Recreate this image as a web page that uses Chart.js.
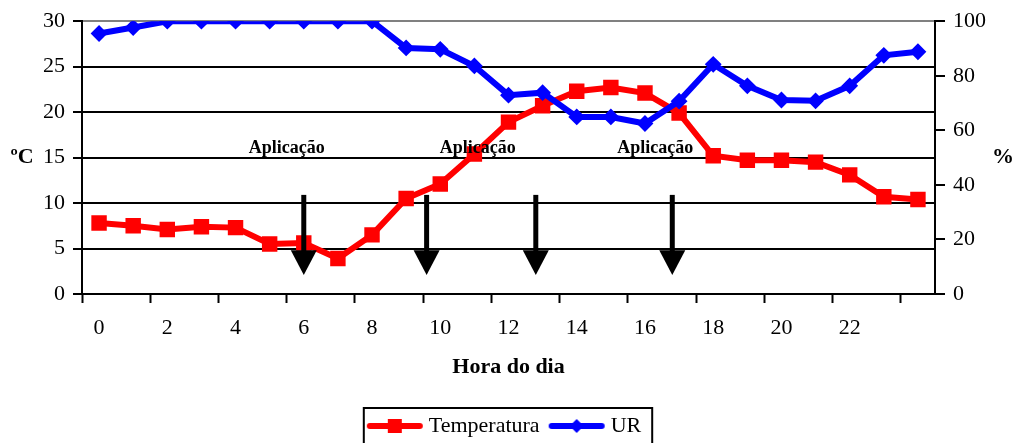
<!DOCTYPE html>
<html lang="pt">
<head>
  <meta charset="UTF-8">
  <title>Temperatura e UR ao longo do dia</title>
  <script src="https://cdn.jsdelivr.net/npm/chart.js"></script>
  <style>
    html, body {
      margin: 0;
      padding: 0;
      overflow: hidden;
      background: #fff;
    }
    canvas {
      display: block;
    }
  </style>
</head>
<body>

  <canvas id="climaChart" width="1013" height="447"></canvas>

  <script>
    const FONT = '"Liberation Serif", "Times New Roman", serif';

    const hours = [0, 1, 2, 3, 4, 5, 6, 7, 8, 9, 10, 11, 12, 13, 14, 15, 16, 17, 18, 19, 20, 21, 22, 23, 24];
    const xTickLabels = ['0', '', '2', '', '4', '', '6', '', '8', '', '10', '', '12', '', '14', '', '16', '', '18', '', '20', '', '22', '', ''];

    // temperatura (ºC), eixo esquerdo
    const temperatura = [7.8, 7.5, 7.1, 7.4, 7.3, 5.5, 5.6, 3.9, 6.5, 10.5, 12.1, 15.4, 18.9, 20.7, 22.3, 22.7, 22.1, 19.9, 15.2, 14.7, 14.7, 14.5, 13.1, 10.7, 10.4];
    // umidade relativa (%), eixo direito
    const ur = [95.5, 97.7, 100, 100, 100, 100, 100, 100, 100, 90.2, 89.7, 83.6, 72.9, 73.8, 64.9, 64.9, 62.5, 70.7, 84.2, 76.3, 71.1, 70.8, 76.3, 87.5, 88.8];

    // momentos de aplicação (hora, posição na escala de categorias)
    const arrowHours = [6, 9.6, 12.8, 16.8];
    const labelHours = [5.5, 11.1, 16.3];
    const labelText = 'Aplicação';

    function legendIcon(color, shape) {
      const c = document.createElement('canvas');
      c.width = 58;
      c.height = 18;
      const g = c.getContext('2d');
      g.strokeStyle = color;
      g.fillStyle = color;
      g.lineWidth = 6;
      g.lineCap = 'round';
      g.beginPath();
      g.moveTo(4, 9);
      g.lineTo(54, 9);
      g.stroke();
      g.beginPath();
      if (shape === 'rect') {
        g.rect(22, 2, 14, 14);
      } else {
        g.moveTo(29, 2); g.lineTo(36, 9); g.lineTo(29, 16); g.lineTo(22, 9); g.closePath();
      }
      g.fill();
      return c;
    }
    const icons = [legendIcon('#ff0000', 'rect'), legendIcon('#0000ff', 'diamond')];

    const annotations = {
      id: 'aplicacoes',
      afterDatasetsDraw(chart) {
        const { ctx, scales: { x, y } } = chart;
        ctx.save();
        ctx.fillStyle = '#000';
        ctx.strokeStyle = '#000';
        arrowHours.forEach(h => {
          const px = x.getPixelForValue(h);
          const top = y.getPixelForValue(10.9);
          const headTop = y.getPixelForValue(4.8);
          const tip = y.getPixelForValue(2.1);
          ctx.lineWidth = 5;
          ctx.beginPath();
          ctx.moveTo(px, top);
          ctx.lineTo(px, headTop + 2);
          ctx.stroke();
          ctx.beginPath();
          ctx.moveTo(px - 13, headTop);
          ctx.lineTo(px + 13, headTop);
          ctx.lineTo(px, tip);
          ctx.closePath();
          ctx.fill();
        });
        ctx.font = 'bold 18px ' + FONT;
        ctx.textAlign = 'center';
        ctx.textBaseline = 'middle';
        labelHours.forEach(h => {
          ctx.fillText(labelText, x.getPixelForValue(h), y.getPixelForValue(16));
        });

        // títulos dos eixos, na horizontal
        const mid = (chart.chartArea.top + chart.chartArea.bottom) / 2;
        ctx.font = 'bold 22px ' + FONT;
        ctx.fillText('ºC', 22, mid);
        ctx.fillText('%', 1003, mid);

        // moldura da legenda
        const boxes = chart.legend.legendHitBoxes;
        if (boxes && boxes.length) {
          const first = boxes[0];
          const last = boxes[boxes.length - 1];
          ctx.lineWidth = 2;
          ctx.strokeRect(first.left - 8, first.top - 7, last.left + last.width - first.left + 19, 80);
        }
        ctx.restore();
      }
    };

    const ctx = document.getElementById('climaChart').getContext('2d');
    new Chart(ctx, {
      type: 'line',
      data: {
        labels: hours,
        datasets: [
          {
            label: 'Temperatura',
            data: temperatura,
            yAxisID: 'y',
            order: 1,
            borderColor: '#ff0000',
            backgroundColor: '#ff0000',
            borderWidth: 6,
            pointStyle: 'rect',
            pointRadius: 9.5,
            pointBorderWidth: 2,
            tension: 0
          },
          {
            label: 'UR',
            data: ur,
            yAxisID: 'y1',
            order: 0,
            borderColor: '#0000ff',
            backgroundColor: '#0000ff',
            borderWidth: 6,
            pointStyle: 'rectRot',
            pointRadius: 7,
            pointBorderWidth: 2,
            tension: 0
          }
        ]
      },
      options: {
        responsive: false,
        animation: false,
        layout: {
          padding: { top: 19, left: 0, right: 0, bottom: 0 }
        },
        scales: {
          x: {
            type: 'category',
            offset: true,
            grid: {
              offset: true,
              drawOnChartArea: false,
              drawTicks: true,
              tickLength: 9,
              tickWidth: 2,
              tickColor: c => (c.index !== undefined && c.index % 2 === 0) ? '#000' : 'rgba(0,0,0,0)'
            },
            border: { color: '#000', width: 2 },
            ticks: {
              autoSkip: false,
              maxRotation: 0,
              padding: 12,
              color: '#000',
              font: { family: FONT, size: 22 },
              callback: (v, i) => xTickLabels[i]
            },
            title: {
              display: true,
              text: 'Hora do dia',
              color: '#000',
              font: { family: FONT, size: 22, weight: 'bold' },
              padding: { top: 4, bottom: 20 }
            },
            afterFit: s => { s.height = 107; }
          },
          y: {
            position: 'left',
            min: 0,
            max: 30,
            ticks: {
              stepSize: 5,
              padding: 8,
              color: '#000',
              font: { family: FONT, size: 22 }
            },
            grid: {
              color: c => c.tick && c.tick.value === 30 ? '#808080' : '#000',
              lineWidth: 2,
              tickLength: 9,
              tickColor: '#000'
            },
            border: { color: '#000', width: 2 },
            afterFit: s => { s.width = 82; }
          },
          y1: {
            position: 'right',
            min: 0,
            max: 100,
            ticks: {
              stepSize: 20,
              padding: 8,
              color: '#000',
              font: { family: FONT, size: 22 }
            },
            grid: {
              drawOnChartArea: false,
              lineWidth: 2,
              tickLength: 10,
              tickColor: '#000'
            },
            border: { color: '#000', width: 2 },
            afterFit: s => { s.width = 78; }
          }
        },
        plugins: {
          legend: {
            position: 'bottom',
            labels: {
              usePointStyle: true,
              pointStyleWidth: 46,
              padding: 14,
              color: '#000',
              font: { family: FONT, size: 22 },
              sort: (a, b) => a.datasetIndex - b.datasetIndex,
              generateLabels: chart => {
                const items = Chart.defaults.plugins.legend.labels.generateLabels(chart);
                items.forEach(it => { it.pointStyle = icons[it.datasetIndex]; });
                return items;
              }
            }
          },
          tooltip: { enabled: false }
        }
      },
      plugins: [annotations]
    });
  </script>

</body>
</html>
